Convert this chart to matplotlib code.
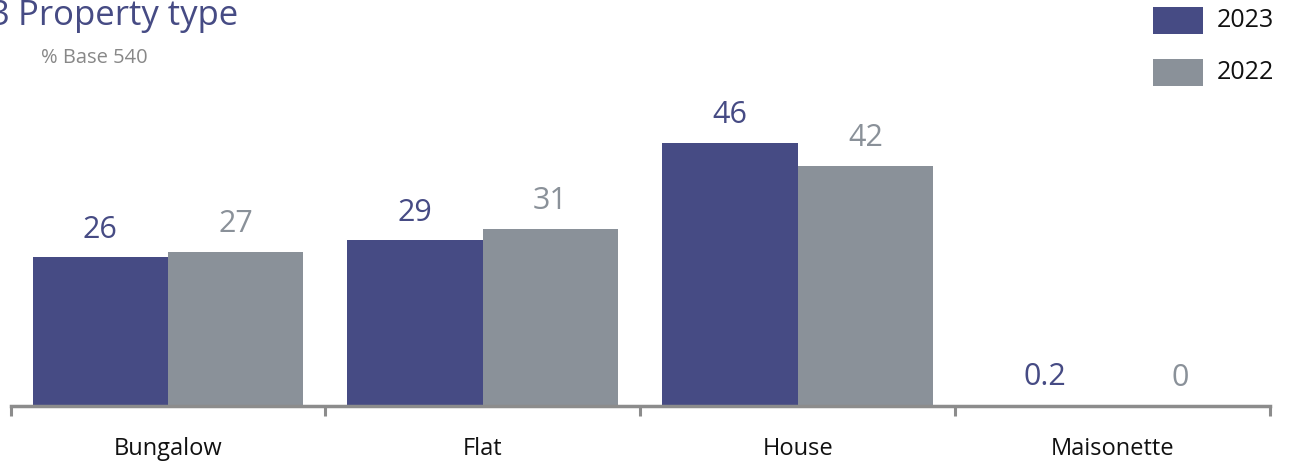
import matplotlib
matplotlib.use("Agg")
import matplotlib.pyplot as plt
from matplotlib.patches import Rectangle
import numpy as np

plt.rcParams['font.family'] = ['Open Sans', 'DejaVu Sans']

categories = ["Bungalow", "Flat", "House", "Maisonette"]
series_names = ["2023", "2022"]
values_2023 = [26, 29, 46, 0.2]
values_2022 = [27, 31, 42, 0]
labels_2023 = ["26", "29", "46", "0.2"]
labels_2022 = ["27", "31", "42", "0"]

C23 = "#464B84"
C22 = "#8A9199"
AXC = "#8C8C8C"

W, H = 1292, 466
fig = plt.figure(figsize=(W / 100, H / 100), dpi=100)
left_px, right_px, base_px = 10.5, 1270, 406
ax = fig.add_axes([left_px / W, (H - base_px) / H, (right_px - left_px) / W, base_px / H])

x = np.arange(len(categories))
bw = 0.43
ax.bar(x - bw / 2, values_2023, width=bw, color=C23)
ax.bar(x + bw / 2, values_2022, width=bw, color=C22)

ax.set_xlim(-0.5, len(categories) - 0.5)
ax.set_ylim(0, base_px / 5.72)

for xi, v, t in zip(x, values_2023, labels_2023):
    ax.annotate(t, (xi - bw / 2, v), xytext=(0, 9), textcoords="offset points",
                ha="center", va="bottom", fontsize=22, color=C23)
for xi, v, t in zip(x, values_2022, labels_2022):
    ax.annotate(t, (xi + bw / 2, v), xytext=(0, 9), textcoords="offset points",
                ha="center", va="bottom", fontsize=22, color=C22)

for s in ["left", "right", "top"]:
    ax.spines[s].set_visible(False)
ax.spines["bottom"].set_color(AXC)
ax.spines["bottom"].set_linewidth(2.5)
ax.set_yticks([])
ax.set_xticks(np.arange(-0.5, len(categories), 1.0))
ax.set_xticklabels([])
ax.tick_params(axis="x", which="major", length=7, width=2.2, color=AXC, direction="out")
ax.set_xticks(x, minor=True)
ax.set_xticklabels(categories, minor=True, fontsize=17, color="#111111")
ax.tick_params(axis="x", which="minor", length=0, pad=22)

# Title and subtitle
fig.text(11 / W, 1 - 25 / H, "Q3", ha="right", va="baseline", fontsize=25, color=C23)
fig.text(18 / W, 1 - 25 / H, "Property type", ha="left", va="baseline", fontsize=25, color=C23)
fig.text(41 / W, 1 - 63 / H, "% Base 540", ha="left", va="baseline", fontsize=14.5, color="#888888")

# Legend
for i, (name, col) in enumerate(zip(series_names, [C23, C22])):
    y0 = 7 + i * 52
    fig.add_artist(Rectangle((1153 / W, 1 - (y0 + 27) / H), 50 / W, 27 / H,
                             transform=fig.transFigure, color=col, lw=0))
    fig.text(1217 / W, 1 - (y0 + 13.5) / H, name, ha="left", va="center",
             fontsize=18, color="#111111")

fig.savefig("out.png", dpi=100)
